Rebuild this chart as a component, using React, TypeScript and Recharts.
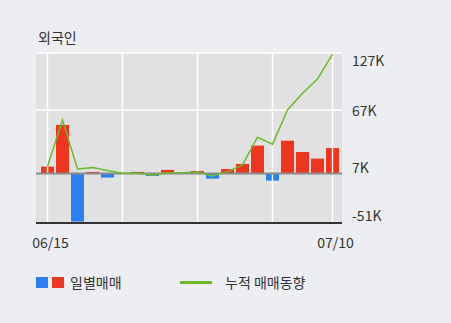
import {
  ComposedChart,
  Bar,
  Line,
  Cell,
  XAxis,
  YAxis,
  CartesianGrid,
  ReferenceLine,
} from 'recharts';

const dates = [
  '06/15', '06/16', '06/17', '06/18', '06/19',
  '06/22', '06/23', '06/24', '06/25', '06/26',
  '06/29', '06/30', '07/01', '07/02', '07/03',
  '07/06', '07/07', '07/08', '07/09', '07/10',
];
// 일별매매 (daily net buying)
const daily = [
  7400, 51300, -50500, 1800, -4200,
  300, 1800, -2500, 3900, 400,
  2800, -5300, 4900, 10200, 29500,
  -7400, 34700, 22800, 15800, 27000,
];
// 누적 매매동향 (cumulative)
const cumulative = [
  7400, 56500, 4900, 6300, 3200,
  400, 400, -1800, 1000, 1000,
  1800, -2500, 2100, 9100, 38300,
  30900, 67000, 84600, 99700, 125700,
];
const yTicks = [127000, 67000, 7000, -51000];
const xTicks = ['06/15', '07/10'];
const weekStarts = ['06/15', '06/22', '06/29', '07/06', '07/10'];

const data = dates.map((date, i) => ({ date, daily: daily[i], cumulative: cumulative[i] }));

const FONT = '"Noto Sans CJK KR", "Noto Sans", sans-serif';
const RED = '#ef3520';
const BLUE = '#2a80f2';
const GREEN = '#6cbb2e';

function RightTick(props: any) {
  const { y, payload } = props;
  const ty = Math.min(Math.max(y, 60), 215);
  return (
    <text x={352} y={ty} dominantBaseline="central" textAnchor="start" fill="#333" fontSize={14} fontFamily={FONT}>
      {Math.round(payload.value / 1000)}K
    </text>
  );
}

function BottomTick(props: any) {
  const { x, payload } = props;
  return (
    <text x={x + 3} y={242} dominantBaseline="central" textAnchor="middle" fill="#333" fontSize={14} fontFamily={FONT}>
      {payload.value}
    </text>
  );
}

export default function App() {
  return (
    <div style={{ position: 'absolute', left: 0, top: 0, width: 451, height: 323, background: '#edeef2', fontFamily: FONT }}>
      <div style={{ position: 'absolute', left: 38, top: 27, fontSize: 14, color: '#333', lineHeight: '20px' }}>외국인</div>
      <ComposedChart
        width={451}
        height={323}
        data={data}
        margin={{ top: 53, right: 0, bottom: 70, left: 36 }}
      >
        <CartesianGrid yAxisId="r" horizontal={false} vertical={false} fill="#e1e1e1" stroke="none" />
        <XAxis
          dataKey="date"
          ticks={xTicks}
          interval={0}
          height={30}
          padding={{ left: 4, right: 2 }}
          tickLine={false}
          axisLine={{ stroke: '#333', strokeWidth: 2 }}
          tick={<BottomTick />}
        />
        <YAxis
          yAxisId="l"
          orientation="left"
          width={0}
          domain={[-52000, 127000]}
          tick={false}
          tickLine={false}
          axisLine={{ stroke: '#333', strokeWidth: 2 }}
        />
        <YAxis
          yAxisId="r"
          orientation="right"
          width={109}
          domain={[-52000, 127000]}
          allowDataOverflow
          ticks={yTicks}
          interval={0}
          tickLine={false}
          axisLine={false}
          tick={<RightTick />}
        />
        {weekStarts.map((d) => (
          <ReferenceLine key={d} yAxisId="r" x={d} stroke="#ffffff" strokeWidth={1.5} />
        ))}
        <ReferenceLine yAxisId="r" y={127000} stroke="#ffffff" strokeWidth={1.5} />
        <ReferenceLine yAxisId="r" y={67000} stroke="#ffffff" strokeWidth={1.5} />
        <Bar yAxisId="r" dataKey="daily" barSize={13} isAnimationActive={false}>
          {data.map((d, i) => (
            <Cell key={i} fill={d.daily >= 0 ? RED : BLUE} />
          ))}
        </Bar>
        <ReferenceLine yAxisId="r" y={0} stroke="#8a8a8a" strokeWidth={2} />
        <Line
          yAxisId="r"
          type="linear"
          dataKey="cumulative"
          stroke={GREEN}
          strokeWidth={1.5}
          dot={false}
          isAnimationActive={false}
        />
      </ComposedChart>
      <div style={{ position: 'absolute', left: 36, top: 277, width: 12, height: 11, background: BLUE }} />
      <div style={{ position: 'absolute', left: 52, top: 277, width: 12, height: 11, background: RED }} />
      <div style={{ position: 'absolute', left: 70, top: 272, fontSize: 14, color: '#333', lineHeight: '20px' }}>일별매매</div>
      <div style={{ position: 'absolute', left: 180, top: 281, width: 32, height: 3, background: GREEN }} />
      <div style={{ position: 'absolute', left: 225, top: 272, fontSize: 14, color: '#333', lineHeight: '20px' }}>누적 매매동향</div>
    </div>
  );
}
